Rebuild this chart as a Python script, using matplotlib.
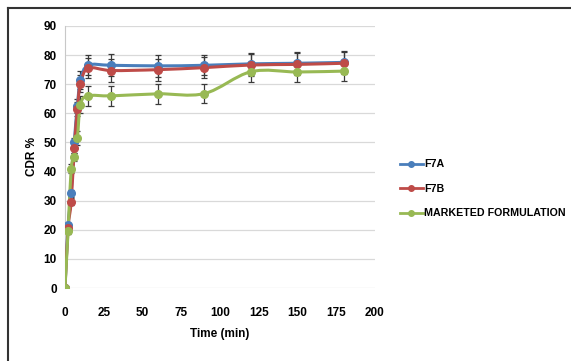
import numpy as np
import matplotlib
matplotlib.use('Agg')
import matplotlib.pyplot as plt
from matplotlib.path import Path
from matplotlib.patches import PathPatch
from matplotlib.lines import Line2D

plt.rcParams['font.family'] = ['Liberation Sans', 'DejaVu Sans']
plt.rcParams['font.weight'] = 'bold'

time = [0, 2, 4, 6, 8, 10, 15, 30, 60, 90, 120, 150, 180]
f7a = [0, 21.5, 32.5, 50, 62.5, 71.5, 76.5, 76.5, 76.3, 76.5, 77, 77.2, 77.5]
f7b = [0, 20.5, 29.7, 48, 61.5, 70.2, 75.5, 74.7, 75, 75.7, 76.6, 76.8, 77.2]
marketed = [0, 19.6, 41, 45, 51.5, 63, 66, 66, 66.7, 66.8, 74.3, 74.2, 74.5]
f7a_err = [0, 1, 1.2, 1.5, 2.5, 3, 3.5, 3.8, 3.8, 3.5, 3.8, 3.8, 3.8]
f7b_err = [0, 1, 1.2, 1.5, 2.5, 3, 3.5, 3.8, 3.8, 3.5, 3.8, 3.8, 3.8]
mkt_err = [0, 1, 1.5, 1.5, 2.5, 3, 3.5, 3.5, 3.5, 3.2, 3.5, 3.5, 3.5]

series = [
    ('F7A', f7a, f7a_err, '#4A7EBB'),
    ('F7B', f7b, f7b_err, '#BE4B48'),
    ('MARKETED FORMULATION', marketed, mkt_err, '#98B954'),
]


def smooth_path(x, y):
    # excel-like smoothed line: cubic bezier through the points
    pts = np.column_stack([x, y]).astype(float)
    n = len(pts)
    verts = [pts[0]]
    codes = [Path.MOVETO]
    for i in range(n - 1):
        p0 = pts[i - 1] if i > 0 else pts[i]
        p1 = pts[i]
        p2 = pts[i + 1]
        p3 = pts[i + 2] if i + 2 < n else pts[i + 1]
        c1 = p1 + (p2 - p0) / 6.0
        c2 = p2 - (p3 - p1) / 6.0
        verts += [c1, c2, p2]
        codes += [Path.CURVE4] * 3
    return Path(verts, codes)


fig = plt.figure(figsize=(5.71, 3.61), dpi=100)
ax = fig.add_axes([0.1138, 0.2022, 0.5429, 0.7258])

for name, vals, err, col in series:
    ax.errorbar(time, vals, yerr=err, fmt='none', ecolor='#3a3a3a',
                elinewidth=0.9, capsize=2.5, capthick=0.9, zorder=2)
    ax.add_patch(PathPatch(smooth_path(time, vals), facecolor='none',
                           edgecolor=col, lw=2.2, zorder=3))
    ax.plot(time, vals, 'o', color=col, ms=5.5, zorder=4)

ax.set_xlim(0, 200)
ax.set_ylim(0, 90)
ax.set_xticks(np.arange(0, 201, 25))
ax.set_yticks(np.arange(0, 91, 10))
ax.yaxis.grid(True, color='#d9d9d9', lw=0.9)
ax.set_axisbelow(True)
for s in ['top', 'right', 'bottom']:
    ax.spines[s].set_visible(False)
ax.spines['left'].set_color('#c8c8c8')
ax.tick_params(axis='x', length=0, labelsize=8.5, pad=14)
ax.tick_params(axis='y', length=0, labelsize=8.5, pad=6)
ax.set_xlabel('Time (min)', fontsize=8.5, fontweight='bold', labelpad=6)
ax.set_ylabel('CDR %', fontsize=8.5, fontweight='bold', labelpad=4)

handles = [Line2D([], [], color=col, lw=2, marker='o', ms=4) for _, _, _, col in series]
labels = [s[0] for s in series]
fig.legend(handles, labels, loc='upper left', bbox_to_anchor=(0.683, 0.585),
           frameon=False, fontsize=7.7, handlelength=2.2, handletextpad=0.1,
           labelspacing=1.35)

# outer frame (top and left edges only are visible)
fig.add_artist(Line2D([0.014, 1.0], [0.978, 0.978], color='#333333', lw=1.5))
fig.add_artist(Line2D([0.014, 0.014], [0.0, 0.978], color='#333333', lw=1.5))

fig.savefig('out.png', dpi=100)
